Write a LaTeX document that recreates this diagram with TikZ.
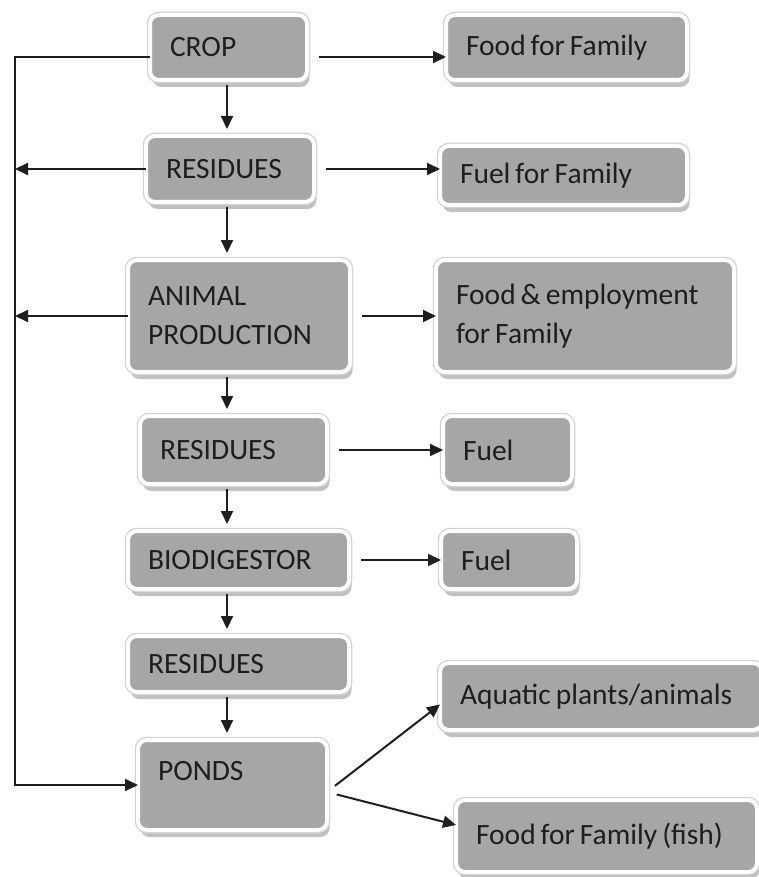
\documentclass[tikz,border=0pt]{standalone}
\usepackage{fontspec}
\setmainfont{Carlito}
\usetikzlibrary{arrows.meta,positioning,shadows}

\definecolor{boxgray}{RGB}{166,166,166}
\definecolor{rimgray}{RGB}{210,210,210}
\definecolor{inkdark}{RGB}{30,30,30}
\newcommand\boxfont{\fontsize{29.5}{39}\selectfont}
\newcommand\tightspace{\spaceskip=.17em plus .05em\relax}

\begin{document}
\begin{tikzpicture}[x=1pt,y=-1pt,>=Triangle,
  box/.style={rounded corners=9pt,fill=boxgray,draw=white,line width=4pt,
    drop shadow={shadow xshift=2.5pt,shadow yshift=-7pt,fill=gray!60,opacity=.8},
    preaction={draw=rimgray,line width=6.5pt},
    outer sep=0pt,inner xsep=20pt,inner ysep=0pt,align=left,text=inkdark,
    font=\boxfont,execute at begin node=\tightspace},
  arrow/.style={-{Triangle[length=13pt,width=12pt]},line width=2pt,draw=inkdark},
  feed/.style={arrow,shorten <=12pt},
  down/.style={arrow,shorten <=5pt,shorten >=7pt}]
  \useasboundingbox (0,0) rectangle (758,877);
  % main chain
  \node[box,text width=117pt,minimum height=65pt] (crop) at (228.5,47.5) {CROP};
  \node[box,text width=128pt,minimum height=66pt,below=56pt of crop,xshift=1.5pt] (res1) {RESIDUES};
  \node[box,text width=182pt,minimum height=112pt,below=58pt of res1,xshift=9pt] (animal) {ANIMAL\\PRODUCTION};
  \node[box,text width=147pt,minimum height=68pt,below=44pt of animal,xshift=-5.5pt] (res2) {RESIDUES};
  \node[box,text width=181pt,minimum height=58pt,below=47pt of res2,xshift=5pt] (bio) {BIODIGESTOR};
  \node[box,text width=181pt,minimum height=56pt,below=47pt of bio] (res3) {RESIDUES};
  \node[box,text width=149pt,minimum height=90pt,below=48pt of res3,xshift=-6pt] (ponds) {PONDS\\[-10pt]~};
  % outputs
  \node[box,text width=201pt,minimum height=65pt,right=139pt of crop] (food1) {Food for Family};
  \node[box,text width=207pt,minimum height=59pt,right=126pt of res1,yshift=-6.5pt] (fuel1) {Fuel for Family};
  \node[box,text width=258pt,minimum height=112pt,right=86pt of animal] (foodemp) {Food \& employment\\for Family};
  \node[box,text width=89pt,minimum height=68pt,right=116pt of res2] (fuel2) {Fuel};
  \node[box,text width=96pt,minimum height=58pt,right=92pt of bio] (fuel3) {Fuel};
  \node[box,text width=282pt,minimum height=67pt,right=113pt of ponds,yshift=88.5pt] (aquatic) {Aquatic plants/animals};
  \node[box,text width=261pt,minimum height=72pt,right=129pt of ponds,yshift=-51pt] (foodfish) {Food for Family (fish)};
  \coordinate (rail) at (15,57);
  \coordinate (axis) at (227,0);
  % return line on the left
  \draw[arrow] ([yshift=-9.5pt]crop.west) -- (rail) |- (ponds.west);
  \draw[arrow] (res1.west) -- (res1.west -| rail);
  \draw[arrow] (animal.west) -- (animal.west -| rail);
  % down the chain
  \draw[down] (crop.south -| axis) -- (res1.north -| axis);
  \draw[down] (res1.south -| axis) -- (animal.north -| axis);
  \draw[down] (animal.south -| axis) -- (res2.north -| axis);
  \draw[down] (res2.south -| axis) -- (bio.north -| axis);
  \draw[down] (bio.south -| axis) -- (res3.north -| axis);
  \draw[down] (res3.south -| axis) -- (ponds.north -| axis);
  % to the right
  \draw[feed] ([yshift=-9.5pt]crop.east) -- ([yshift=-9.5pt]food1.west);
  \draw[feed] (res1.east) -- (res1.east -| fuel1.west);
  \draw[feed] (animal.east) -- (foodemp.west);
  \draw[feed] (res2.east) -- (fuel2.west);
  \draw[feed] (bio.east) -- (fuel3.west);
  \draw[arrow,shorten <=10pt] ([yshift=-7pt]ponds.east) -- ([yshift=-8pt]aquatic.west);
  \draw[arrow,shorten <=10pt] ([yshift=-7pt]ponds.east) -- ([yshift=11pt]foodfish.west);
\end{tikzpicture}
\end{document}
